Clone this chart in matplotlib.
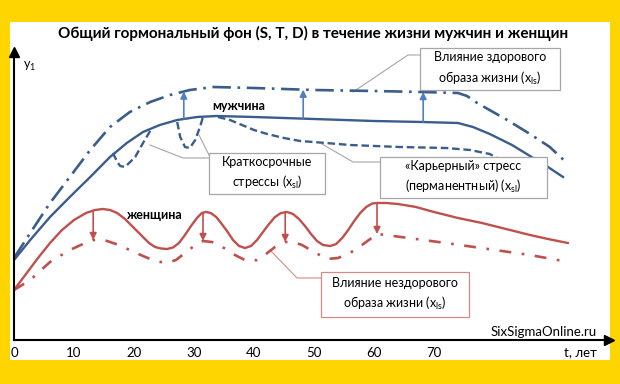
import numpy as np
import matplotlib.pyplot as plt
from matplotlib.patches import Rectangle
from matplotlib.lines import Line2D

plt.rcParams['font.family'] = ['Lato', 'DejaVu Sans']

# age axis (years) and hormonal level (arbitrary units)
man_t = [0, 2.7, 6, 9.3, 12.7, 16, 18.8, 21.5, 24.3, 27.2, 30.5, 33.8, 40, 50,
         60, 68, 74, 76.5, 79.3, 83, 86, 89, 91.5]
man_y = [80, 100, 123, 143, 163, 183, 197, 208, 215, 220, 223, 224, 223, 221,
         219, 218, 217, 213, 206, 195, 184, 173, 163]

healthy_t = [0, 2.7, 6, 9.3, 12.7, 16, 19.3, 22.7, 26, 29.3, 33.2, 40, 50, 60,
             68, 74, 75.5, 77.2, 82.2, 86, 89.3, 91.8]
healthy_y = [82, 107, 137, 163, 190, 213, 228, 238, 245, 250, 253, 252, 250, 249,
             248, 247, 244, 237, 220, 206, 193, 179]

dip1_t = [16.5, 17.2, 17.7, 18.5, 20.2, 21.5, 23]
dip1_y = [187, 178, 174, 173, 183, 197, 212]
dip2_t = [27.2, 27.7, 28.5, 29.3, 30.2, 31, 31.5]
dip2_y = [218, 203, 193, 192, 200, 213, 223]

career_t = [34, 36, 38, 40, 42.2, 45, 47.7, 52, 56, 64.3, 72, 76, 79.3, 82,
            83.8, 86.5]
career_y = [223, 220, 215, 210, 206, 202, 199, 197, 195, 193, 192, 190, 186, 177,
            169, 153]

woman_t = [0, 2, 4, 6, 8, 10, 12, 13.5, 14.8, 16, 17.2, 18.5, 19.5, 20.5, 21.5,
           22.5, 23.5, 24.5, 25.5, 26.5, 27.5, 28.5, 29.5, 30.5, 31.3, 32, 32.8,
           33.7, 34.5, 35.5, 36.5, 37.5, 38.5, 39.5, 40.5, 41.5, 42.5, 43.5,
           44.5, 45.5, 46.5, 47.5, 48.5, 49.5, 50.5, 51.5, 52.7, 53.7, 54.7,
           55.7, 56.7, 57.7, 58.7, 59.7, 60.5, 62, 64, 67, 70, 74, 78, 82, 86,
           89, 92.3]
woman_y = [50, 66, 82, 97, 110, 120, 127, 130, 131, 130, 127, 121, 115, 109, 103,
           97, 93, 91.5, 91, 92.5, 97, 105, 114, 122, 127, 128, 127,
           123, 117, 109, 100, 94, 92, 94, 100, 108, 116, 123,
           127, 128, 126, 121, 114, 106, 99, 95, 94, 96, 102,
           110, 119, 127, 133, 136.5, 137, 137, 136, 133, 128, 122, 117, 111, 105,
           101, 97]

unhealthy_t = [0, 2.7, 6, 9.3, 11.5, 13.2, 15, 17, 19.3, 21.5, 23.5, 25.5, 27,
               28.5, 30, 31.5, 33, 34.5, 36.5, 38.8, 40.5, 42, 43.5, 45.2, 46.5,
               48, 50, 52.2, 54, 56, 58, 60.5, 62, 67, 72, 79, 86, 91.5]
unhealthy_y = [50, 60, 78, 90, 96, 100, 100, 96, 90, 84, 79, 77, 80,
               87, 94, 99, 98, 94, 86, 79, 80, 86, 93, 98, 98,
               95, 88, 81, 82, 87, 95, 106, 105, 101, 97, 91, 85, 79]

up_arrow_t = [28.3, 48.2, 68.2]
down_arrow_t = [13.2, 31.5, 45.2, 60.5]

x_ticks = [0, 10, 20, 30, 40, 50, 60, 70]

BLUE = '#3a5d8c'
ARROW_BLUE = '#4f7fbf'
RED = '#c0504d'
GRAY = '#a6a6a6'

W, H = 620, 384


def fx(px):
    return px / W


def fy(py):
    return 1 - py / H


fig = plt.figure(figsize=(6.2, 3.84), dpi=100, facecolor='#ffd500')
fig.patches.append(Rectangle((fx(10), fy(360)), fx(600), 338 / H,
                             transform=fig.transFigure, facecolor='white',
                             edgecolor='none', zorder=-5))

ax = fig.add_axes([fx(14), fy(340), fx(595), (340 - 52) / H])
ax.set_zorder(1)
ax.patch.set_alpha(0)
ax.set_xlim(0, 595 / 6)
ax.set_ylim(0, 288)
for s in ['top', 'right']:
    ax.spines[s].set_visible(False)
for s in ['left', 'bottom']:
    ax.spines[s].set_linewidth(1.5)
ax.plot(1, 0, '>k', ms=7, transform=ax.transAxes, clip_on=False)
ax.plot(0, 1, '^k', ms=7, transform=ax.transAxes, clip_on=False)
ax.set_yticks([])
ax.set_xticks(x_ticks)
ax.set_xticklabels([str(v) for v in x_ticks], fontsize=9.5)
ax.tick_params(axis='x', length=0, pad=5)

# men
ax.plot(man_t, man_y, color=BLUE, lw=1.7, solid_joinstyle='round')
ax.plot(healthy_t, healthy_y, color=BLUE, lw=1.9, ls=(0, (7, 2.5, 1, 2.5)))
ax.plot(dip1_t, dip1_y, color=BLUE, lw=1.7, ls=(0, (3.2, 1.6)))
ax.plot(dip2_t, dip2_y, color=BLUE, lw=1.7, ls=(0, (3.2, 1.6)))
ax.plot(career_t, career_y, color=BLUE, lw=1.7, ls=(0, (3.2, 1.6)))
for t in up_arrow_t:
    y0 = np.interp(t, man_t, man_y)
    y1 = np.interp(t, healthy_t, healthy_y)
    ax.annotate('', xy=(t, y1), xytext=(t, y0),
                arrowprops=dict(arrowstyle='-|>', color=ARROW_BLUE, lw=1.2,
                                mutation_scale=10, shrinkA=0, shrinkB=0))

# women
ax.plot(woman_t, woman_y, color=RED, lw=1.7, solid_joinstyle='round')
ax.plot(unhealthy_t, unhealthy_y, color=RED, lw=1.9, ls=(0, (4.5, 4, 1, 4)))
for t in down_arrow_t:
    y0 = np.interp(t, woman_t, woman_y)
    y1 = np.interp(t, unhealthy_t, unhealthy_y)
    ax.annotate('', xy=(t, y1), xytext=(t, y0),
                arrowprops=dict(arrowstyle='-|>', color=RED, lw=1.2,
                                mutation_scale=10, shrinkA=0, shrinkB=0))

# texts
fig.text(fx(313), fy(33), 'Общий гормональный фон (S, T, D) в течение жизни мужчин и женщин',
         ha='center', va='center', fontsize=11, fontweight='bold')
fig.text(fx(30), fy(66), r'y$_\mathregular{1}$', ha='center', va='center', fontsize=9)
fig.text(fx(239), fy(106), 'мужчина', ha='center', va='center', fontsize=9,
         fontweight='bold', zorder=3)
fig.text(fx(155), fy(215), 'женщина', ha='center', va='center', fontsize=9,
         fontweight='bold', zorder=3)
fig.text(fx(597), fy(332), 'SixSigmaOnline.ru', ha='right', va='center', fontsize=9.5)
fig.text(fx(597), fy(352), 't, лет', ha='right', va='center', fontsize=9.5)


def box(x0, y0, x1, y1, text, edge):
    fig.patches.append(Rectangle((fx(x0), fy(y1)), fx(x1 - x0), (y1 - y0) / H,
                                 transform=fig.transFigure, facecolor='white',
                                 edgecolor=edge, lw=0.9, zorder=3))
    fig.text(fx((x0 + x1) / 2), fy((y0 + y1) / 2), text, ha='center', va='center',
             fontsize=9, linespacing=1.5, zorder=4)


def leader(xs, ys, color):
    fig.lines.append(Line2D([fx(x) for x in xs], [fy(y) for y in ys],
                            transform=fig.transFigure, color=color, lw=0.8, zorder=0))


box(420, 48, 560, 90, 'Влияние здорового\nобраза жизни (x$_\\mathregular{ls}$)', GRAY)
leader([420, 408, 353], [55, 55, 92], GRAY)

box(209, 153, 325, 194, 'Краткосрочные\nстрессы (x$_\\mathregular{sl}$)', GRAY)
leader([150, 183, 209], [145, 158, 158], GRAY)
leader([199, 209], [135, 155], GRAY)

box(380, 157, 547, 198, '«Карьерный» стресс\n(перманентный) (x$_\\mathregular{sl}$)', GRAY)
leader([380, 353, 322], [162, 162, 144], GRAY)

box(321, 272, 469, 317, 'Влияние нездорового\nобраза жизни (x$_\\mathregular{ls}$)', '#d58a88')
leader([321, 297, 270], [278, 278, 250], '#d58a88')

fig.savefig('out.png', dpi=100, facecolor=fig.get_facecolor())
